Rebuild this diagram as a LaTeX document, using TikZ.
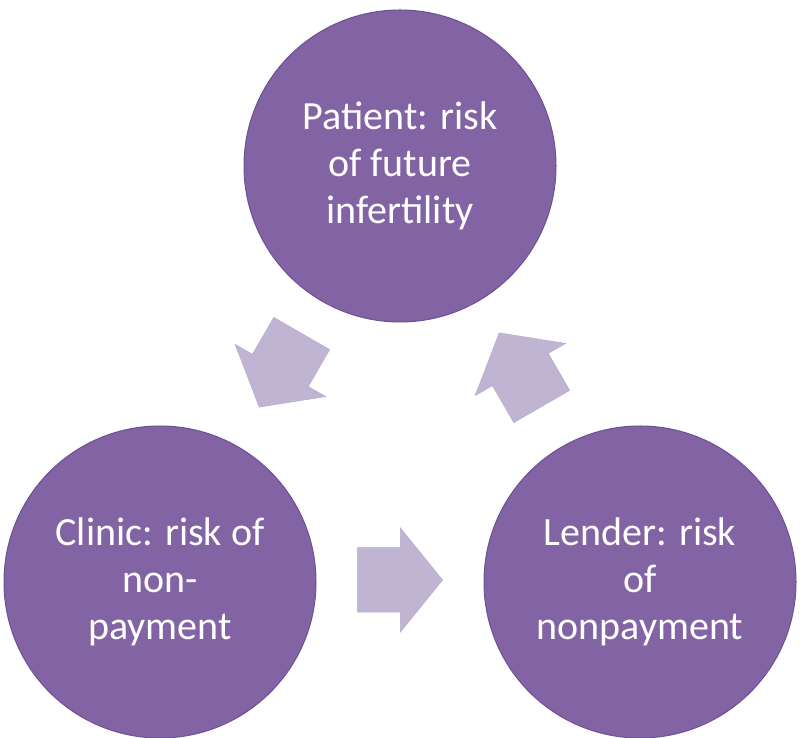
\documentclass[tikz,border=0pt]{standalone}
\usepackage{xcolor}
\usepackage{fontspec}
\setmainfont{Carlito}
\usepackage{tikz}
\usetikzlibrary{shapes.arrows}

\definecolor{riskpurple}{RGB}{130,100,165}
\definecolor{riskedge}{RGB}{110,80,150}
\definecolor{flowlilac}{RGB}{192,180,211}

\begin{document}
\begin{tikzpicture}[x=1pt, y=1pt,
    risknode/.style={circle, draw=riskedge, line width=1pt, fill=riskpurple, minimum size=312pt, inner sep=0pt, text=white, align=center, font=\fontsize{40}{47}\selectfont},
    flowarrow/.style={single arrow, draw=flowlilac!90!riskedge, line width=0.5pt, fill=flowlilac, minimum height=85pt, inner xsep=0pt, inner ysep=32pt, single arrow head extend=20pt, single arrow tip angle=102}
    ]
        \useasboundingbox (0,0) rectangle (800,738);
        %Nodes
        \node[risknode]
            (patient)   at (400,572)    {Patient: risk\\of future\\infertility};
        \node[risknode]
            (clinic)    at (160,156)    {Clinic: risk of\\non-\\payment};
        \node[risknode]
            (lender)    at (640,156)    {Lender: risk\\of\\nonpayment};

        %Arrows
        \node[flowarrow, rotate=240]
            (patclin)   at (287,379)    {};
        \node[flowarrow]
            (clinlend)  at (387,158)    {};
        \node[flowarrow, rotate=120]
            (lendpat)   at (527,357)    {};
    \end{tikzpicture}
\end{document}
